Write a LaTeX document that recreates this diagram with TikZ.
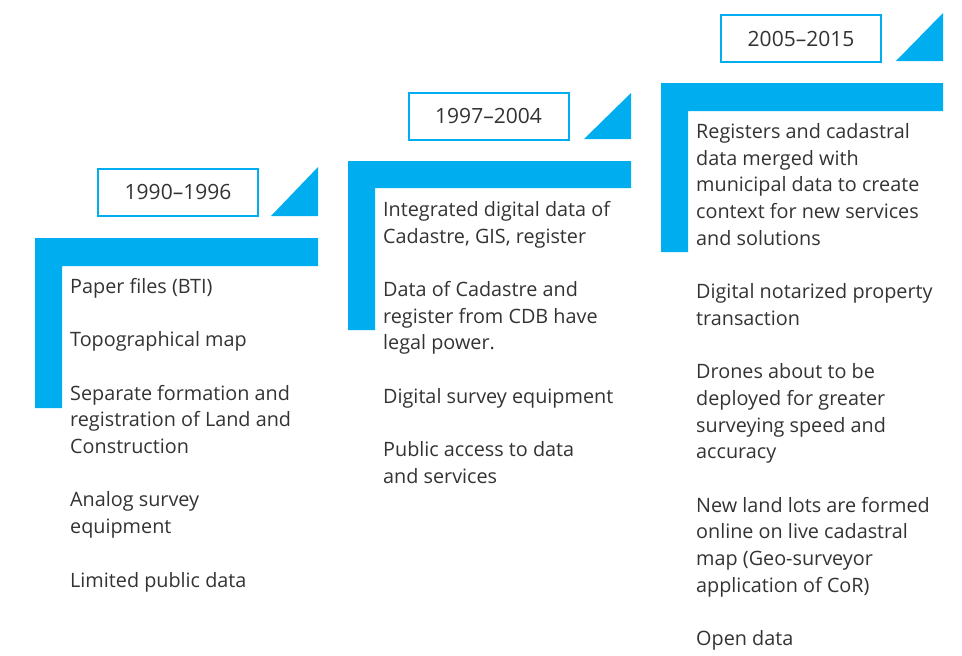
\documentclass[tikz,border=0pt]{standalone}
\usepackage{fontspec}
\setmainfont{Open Sans}
\definecolor{stepblue}{HTML}{00AEEF}
\definecolor{stepgray}{HTML}{333333}
\begin{document}
\begin{tikzpicture}[
        x=1pt, y=-1pt,
        % 年份框: 藍框、白底
        yearbox/.style={
            rectangle,
            draw=stepblue,
            line width=2pt,
            fill=white,
            minimum width=160pt,
            minimum height=47pt,
            text=stepgray,
            font=\fontsize{21}{26.7}\selectfont
        },
        % 說明文字
        itemtext/.style={
            anchor=north west,
            inner sep=0pt,
            align=left,
            text=stepgray,
            font=\fontsize{19.8}{26.7}\selectfont
        },
        % 階梯色塊
        stair/.style={
            fill=stepblue
        }
    ]
        \useasboundingbox (0,0) rectangle (962,656);

        % --- 1. 三個 L 形階梯 ---
        \fill[stair] (35,238) -- (318,238) -- (318,266) -- (62,266) -- (62,408) -- (35,408) -- cycle;
        \fill[stair] (348,161) -- (631,161) -- (631,188) -- (375,188) -- (375,330) -- (348,330) -- cycle;
        \fill[stair] (661,83) -- (943,83) -- (943,111) -- (688,111) -- (688,252) -- (661,252) -- cycle;

        % --- 2. 右上角三角形 ---
        \fill[stair] (271,216) -- (318,216) -- (318,167) -- cycle;
        \fill[stair] (584,139) -- (631,139) -- (631,93) -- cycle;
        \fill[stair] (896,61) -- (943,61) -- (943,13) -- cycle;

        % --- 3. 年份框 ---
        \node[yearbox] (yr1) at (178,192) {1990--1996};
        \node[yearbox] (yr2) at (488.5,116) {1997--2004};
        \node[yearbox] (yr3) at (801,38.5) {2005--2015};

        % --- 4. 各階段內容 ---
        \node[itemtext] (txt1) at (70,274.5) {\strut Paper files (BTI)\\[26.7pt]
            Topographical map\\[26.7pt]
            Separate formation and\\
            registration of Land and\\
            Construction\\[26.7pt]
            Analog survey\\
            equipment\\[26.7pt]
            Limited public data};
        \node[itemtext] (txt2) at (383,197.5) {\strut Integrated digital data of\\
            Cadastre, GIS, register\\[26.7pt]
            Data of Cadastre and\\
            register from CDB have\\
            legal power.\\[26.7pt]
            Digital survey equipment\\[26.7pt]
            Public access to data\\
            and services};
        \node[itemtext] (txt3) at (696,119.5) {\strut Registers and cadastral\\
            data merged with\\
            municipal data to create\\
            context for new services\\
            and solutions\\[26.7pt]
            Digital notarized property\\
            transaction\\[26.7pt]
            Drones about to be\\
            deployed for greater\\
            surveying speed and\\
            accuracy\\[26.7pt]
            New land lots are formed\\
            online on live cadastral\\
            map (Geo-surveyor\\
            application of CoR)\\[26.7pt]
            Open data};

    \end{tikzpicture}
\end{document}
